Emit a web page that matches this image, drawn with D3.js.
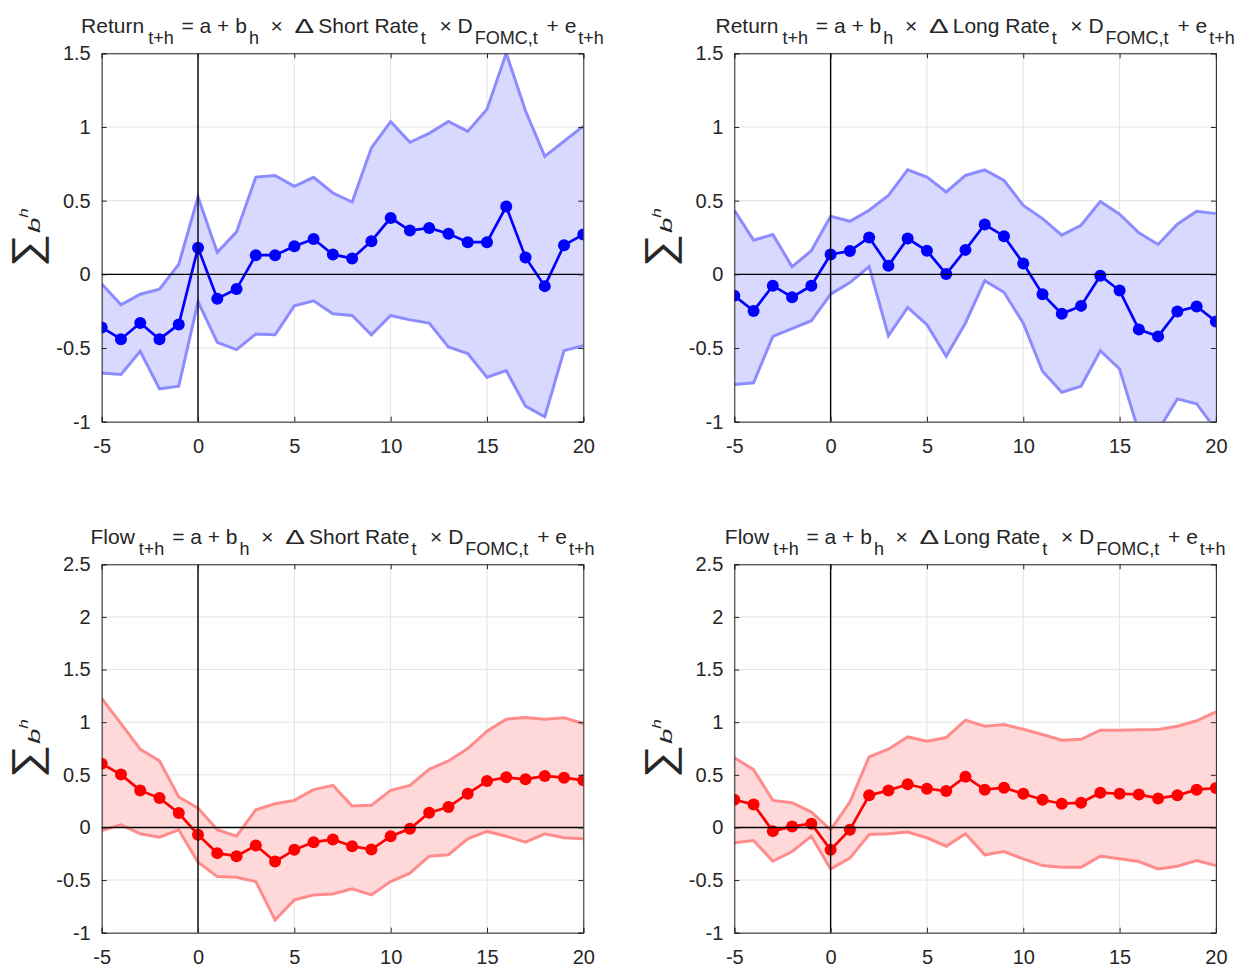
<!DOCTYPE html>
<html>
<head>
<meta charset="utf-8">
<script src="https://cdn.jsdelivr.net/npm/d3@7"></script>
<style>
body { margin: 0; background: #fff; }
text { font-family: "Liberation Sans", Arial, sans-serif; fill: #262626; }
</style>
</head>
<body>
<div id="chart"></div>
<script>
// horizons h
var horizons = [-5,-4,-3,-2,-1,0,1,2,3,4,5,6,7,8,9,10,11,12,13,14,15,16,17,18,19,20];

// Return on short rate
var retShortMid = [-0.36,-0.44,-0.33,-0.44,-0.34,0.18,-0.165,-0.10,0.13,0.13,0.19,0.24,0.135,0.108,0.225,0.383,0.297,0.315,0.275,0.218,0.218,0.46,0.115,-0.08,0.198,0.27];
var retShortUp  = [-0.065,-0.207,-0.135,-0.10,0.068,0.525,0.149,0.288,0.66,0.671,0.597,0.658,0.552,0.491,0.858,1.036,0.896,0.957,1.038,0.97,1.12,1.50,1.11,0.80,0.903,1.005];
var retShortLo  = [-0.669,-0.68,-0.522,-0.777,-0.759,-0.185,-0.462,-0.511,-0.405,-0.41,-0.214,-0.18,-0.268,-0.279,-0.41,-0.279,-0.309,-0.331,-0.493,-0.538,-0.698,-0.653,-0.894,-0.966,-0.518,-0.484];

// Return on long rate
var retLongMid = [-0.146,-0.248,-0.077,-0.155,-0.077,0.135,0.158,0.25,0.059,0.243,0.16,0.002,0.166,0.338,0.259,0.074,-0.135,-0.268,-0.214,-0.009,-0.11,-0.374,-0.421,-0.252,-0.218,-0.32];
var retLongUp  = [0.435,0.232,0.27,0.052,0.16,0.394,0.36,0.435,0.536,0.709,0.66,0.559,0.671,0.709,0.637,0.468,0.378,0.266,0.333,0.495,0.408,0.282,0.203,0.34,0.428,0.412];
var retLongLo  = [-0.748,-0.736,-0.421,-0.369,-0.315,-0.135,-0.056,0.052,-0.417,-0.225,-0.342,-0.556,-0.33,-0.043,-0.122,-0.331,-0.658,-0.80,-0.759,-0.518,-0.642,-1.07,-1.06,-0.845,-0.878,-1.055];

// Flow on short rate
var flowShortMid = [0.606,0.502,0.352,0.279,0.137,-0.07,-0.244,-0.273,-0.171,-0.324,-0.213,-0.14,-0.114,-0.178,-0.21,-0.083,-0.013,0.14,0.194,0.32,0.441,0.476,0.457,0.489,0.473,0.448];
var flowShortUp  = [1.225,0.987,0.743,0.632,0.289,0.184,-0.022,-0.083,0.168,0.225,0.257,0.359,0.40,0.203,0.21,0.352,0.40,0.552,0.632,0.749,0.914,1.029,1.044,1.029,1.041,0.987];
var flowShortLo  = [-0.029,0.025,-0.06,-0.092,-0.022,-0.33,-0.467,-0.473,-0.514,-0.879,-0.689,-0.641,-0.632,-0.584,-0.641,-0.514,-0.435,-0.273,-0.26,-0.108,-0.038,-0.083,-0.14,-0.06,-0.098,-0.108];

// Flow on long rate
var flowLongMid = [0.263,0.219,-0.035,0.01,0.035,-0.213,-0.022,0.305,0.352,0.41,0.368,0.346,0.482,0.359,0.378,0.32,0.263,0.225,0.235,0.33,0.32,0.314,0.276,0.305,0.359,0.375];
var flowLongUp  = [0.663,0.549,0.257,0.235,0.146,-0.022,0.241,0.67,0.743,0.86,0.819,0.854,1.019,0.962,0.978,0.933,0.883,0.829,0.838,0.924,0.924,0.927,0.93,0.962,1.013,1.098];
var flowLongLo  = [-0.146,-0.124,-0.321,-0.229,-0.083,-0.394,-0.292,-0.067,-0.06,-0.044,-0.098,-0.178,-0.06,-0.26,-0.229,-0.298,-0.362,-0.378,-0.378,-0.273,-0.298,-0.324,-0.394,-0.368,-0.314,-0.362];

// tick labels
var xTicks = [-5,0,5,10,15,20];
var retYTicks = [-1,-0.5,0,0.5,1,1.5];
var flowYTicks = [-1,-0.5,0,0.5,1,1.5,2,2.5];

// title pieces: [text, subscript?, dx]
function titleParts(lhs, rate) {
  return [[lhs,0,0],["t+h",1,4],[" = a + b",0,2],["h",1,2],["\u00a0 \u00d7 \u00a0",0,0],["\u0394",0,0,"wide"],
          [" " + rate + " Rate",0,0],["t",1,2],["\u00a0 \u00d7 D",0,2],["FOMC,t",1,2],[" + e",0,3],["t+h",1,2]];
}

var W = 1242, H = 967;
var axW = 481.6, axH = 368.4;

var panels = [
  {left: 101.7, top: 53.3, title: titleParts("Return","Short"), mid: retShortMid, up: retShortUp, lo: retShortLo, yTicks: retYTicks, line: "#0000ff", edge: "#8c8cff", fill: "#d9d9ff"},
  {left: 734.3, top: 53.3, title: titleParts("Return","Long"), mid: retLongMid, up: retLongUp, lo: retLongLo, yTicks: retYTicks, line: "#0000ff", edge: "#8c8cff", fill: "#d9d9ff"},
  {left: 101.7, top: 564.3, title: titleParts("Flow","Short"), mid: flowShortMid, up: flowShortUp, lo: flowShortLo, yTicks: flowYTicks, line: "#ff0000", edge: "#ff8c8c", fill: "#ffd9d9"},
  {left: 734.3, top: 564.3, title: titleParts("Flow","Long"), mid: flowLongMid, up: flowLongUp, lo: flowLongLo, yTicks: flowYTicks, line: "#ff0000", edge: "#ff8c8c", fill: "#ffd9d9"}
];

var svg = d3.select("#chart").append("svg")
  .attr("width", W)
  .attr("height", H);

// place a rotated glyph so that its ink fills a box (panel coords)
var ctx = document.createElement("canvas").getContext("2d");
function fitGlyph(g, ch, style, family, box) {
  ctx.font = style + " 100px " + family;
  var m = ctx.measureText(ch);
  var w = m.actualBoundingBoxLeft + m.actualBoundingBoxRight;
  var h = m.actualBoundingBoxAscent + m.actualBoundingBoxDescent;
  var sx = (box.y1 - box.y0) / w, sy = (box.x1 - box.x0) / h;
  var tx = box.x0 + sy * m.actualBoundingBoxAscent;
  var ty = box.y0 + sx * m.actualBoundingBoxRight;
  g.append("text").text(ch)
    .attr("font-size", 100)
    .attr("font-style", style === "italic" ? "italic" : null)
    .attr("font-family", family)
    .attr("fill", "#262626")
    .attr("transform", "translate(" + tx + "," + ty + ") rotate(-90) scale(" + sx + "," + sy + ")");
}

panels.forEach(function(p, k) {
  var x = d3.scaleLinear().domain([-5, 20]).range([0, axW]);
  var y = d3.scaleLinear().domain([p.yTicks[0], p.yTicks[p.yTicks.length - 1]]).range([axH, 0]);

  var g = svg.append("g").attr("transform", "translate(" + p.left + "," + p.top + ")");

  var clipId = "clip" + k;
  g.append("clipPath").attr("id", clipId)
    .append("rect").attr("width", axW).attr("height", axH);

  // grid
  g.append("g").selectAll("line").data(xTicks).enter().append("line")
    .attr("x1", function(d) { return x(d); }).attr("x2", function(d) { return x(d); })
    .attr("y1", 0).attr("y2", axH)
    .attr("stroke", "#e3e3e3").attr("stroke-width", 1);
  g.append("g").selectAll("line").data(p.yTicks).enter().append("line")
    .attr("x1", 0).attr("x2", axW)
    .attr("y1", function(d) { return y(d); }).attr("y2", function(d) { return y(d); })
    .attr("stroke", "#e3e3e3").attr("stroke-width", 1);

  var plot = g.append("g").attr("clip-path", "url(#" + clipId + ")");

  // confidence band
  var area = d3.area()
    .x(function(d, i) { return x(horizons[i]); })
    .y0(function(d, i) { return y(p.lo[i]); })
    .y1(function(d, i) { return y(p.up[i]); });
  plot.append("path").datum(p.mid).attr("d", area).attr("fill", p.fill);

  var lineGen = d3.line()
    .x(function(d, i) { return x(horizons[i]); })
    .y(function(d) { return y(d); });

  [p.up, p.lo].forEach(function(s) {
    plot.append("path").datum(s).attr("d", lineGen)
      .attr("fill", "none").attr("stroke", p.edge).attr("stroke-width", 3);
  });

  // zero lines
  g.append("line").attr("x1", 0).attr("x2", axW).attr("y1", y(0)).attr("y2", y(0))
    .attr("stroke", "#000").attr("stroke-width", 1.4);
  g.append("line").attr("x1", x(0)).attr("x2", x(0)).attr("y1", 0).attr("y2", axH)
    .attr("stroke", "#000").attr("stroke-width", 1.4);

  // estimates
  plot.append("path").datum(p.mid).attr("d", lineGen)
    .attr("fill", "none").attr("stroke", p.line).attr("stroke-width", 2.7);
  plot.selectAll("circle").data(p.mid).enter().append("circle")
    .attr("cx", function(d, i) { return x(horizons[i]); })
    .attr("cy", function(d) { return y(d); })
    .attr("r", 6)
    .attr("fill", p.line);

  // axes (ticks inward)
  var fmt = function(d) { return String(d); };
  var ax = g.append("g").attr("transform", "translate(0," + axH + ")")
    .call(d3.axisBottom(x).tickValues(xTicks).tickSize(-5).tickPadding(17).tickFormat(fmt));
  var at = g.append("g")
    .call(d3.axisTop(x).tickValues(xTicks).tickSize(-5).tickFormat(""));
  var ay = g.append("g")
    .call(d3.axisLeft(y).tickValues(p.yTicks).tickSize(-5).tickPadding(11).tickFormat(fmt));
  var ar = g.append("g").attr("transform", "translate(" + axW + ",0)")
    .call(d3.axisRight(y).tickValues(p.yTicks).tickSize(-5).tickFormat(""));
  [ax, at, ay, ar].forEach(function(a) {
    a.select(".domain").attr("stroke", "#262626").attr("stroke-width", 1);
    a.selectAll(".tick line").attr("stroke", "#262626");
    a.selectAll("text").attr("font-size", 20).attr("fill", "#262626")
      .attr("font-family", "Liberation Sans, Arial, sans-serif");
  });

  // title
  var t = g.append("text")
    .attr("x", axW / 2).attr("y", -20)
    .attr("text-anchor", "middle")
    .attr("font-size", 21)
    .style("white-space", "pre");
  var down = false;
  p.title.forEach(function(part) {
    var sp = t.append("tspan").text(part[0]).attr("dx", part[2]);
    if (part[1]) {
      sp.attr("font-size", 18).attr("dy", down ? 0 : 11);
      down = true;
    } else {
      sp.attr("dy", down ? -11 : 0);
      down = false;
    }
    if (part[3] === "wide") sp.attr("textLength", 18).attr("lengthAdjust", "spacingAndGlyphs");
  });

  // y label: sum of b_h
  var mid = axH / 2;
  fitGlyph(g, "\u2211", "normal", "DejaVu Serif", {x0: -90.7, x1: -53.7, y0: mid - 3.5, y1: mid + 29.5});
  fitGlyph(g, "b", "italic", "DejaVu Serif", {x0: -74.7, x1: -61.7, y0: mid - 20.5, y1: mid - 5.5});
  fitGlyph(g, "h", "italic", "DejaVu Serif", {x0: -83.7, x1: -73.7, y0: mid - 29.5, y1: mid - 20.5});
});
</script>
</body>
</html>
